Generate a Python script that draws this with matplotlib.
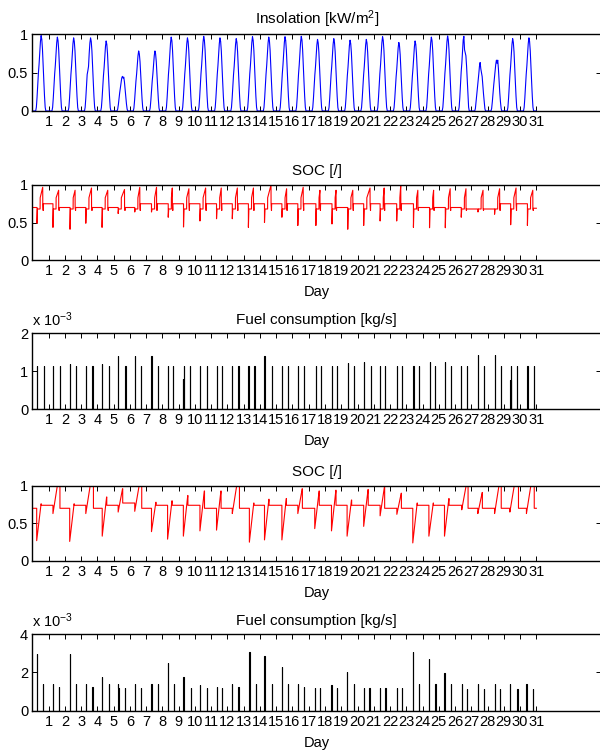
import numpy as np
import matplotlib
matplotlib.use("Agg")
import matplotlib.pyplot as plt
from matplotlib.ticker import FixedLocator, FuncFormatter

plt.rcParams['font.family'] = ['Liberation Sans', 'DejaVu Sans']
plt.rcParams['mathtext.fontset'] = 'custom'
plt.rcParams['mathtext.rm'] = 'Liberation Sans'
plt.rcParams['mathtext.default'] = 'regular'

# ---------------------------------------------------------------- data
n_days = 31
day_ticks = list(range(1, 32))

# Insolation [kW/m^2]: daily maximum and normalised hourly profile
insol_peak = [0.98, 0.96, 0.95, 0.95, 0.91, 0.45, 0.78, 0.78, 0.96, 0.95,
              0.97, 0.95, 0.94, 0.965, 0.96, 0.965, 0.97, 0.93, 0.94, 0.92,
              0.93, 0.965, 0.89, 0.91, 0.96, 0.975, 0.97, 0.63, 0.66, 0.94, 0.95]
insol_shape = [0, 0, 0, 0, 0, 0, 0.05, 0.18, 0.35, 0.50, 0.62, 0.78,
               0.92, 1.00, 0.95, 0.82, 0.60, 0.40, 0.20, 0.05, 0, 0, 0, 0]
# cloudy days with an irregular profile (normalised)
insol_shape_days = {
    3: [0, 0, 0, 0, 0, 0, 0.05, 0.18, 0.35, 0.50, 0.55, 0.61, 0.79, 0.93,
        1.00, 0.95, 0.82, 0.60, 0.40, 0.20, 0.05, 0, 0, 0],
    5: [0, 0, 0, 0, 0, 0, 0.05, 0.18, 0.36, 0.53, 0.67, 0.80, 0.95, 1.00,
        0.95, 0.98, 0.84, 0.62, 0.40, 0.20, 0.05, 0, 0, 0],
    26: [0, 0, 0, 0, 0, 0, 0.05, 0.18, 0.36, 0.52, 0.64, 0.80, 0.95, 1.00,
         0.82, 0.78, 0.74, 0.60, 0.41, 0.21, 0.05, 0, 0, 0],
    27: [0, 0, 0, 0, 0, 0, 0.05, 0.19, 0.35, 0.49, 0.62, 0.76, 0.92, 1.00,
         0.87, 0.79, 0.71, 0.52, 0.35, 0.19, 0.05, 0, 0, 0],
    28: [0, 0, 0, 0, 0, 0, 0.05, 0.18, 0.35, 0.50, 0.64, 0.79, 0.91, 1.00,
         0.94, 1.00, 0.83, 0.58, 0.36, 0.18, 0.05, 0, 0, 0],
}

# Generator start / stop instants [day] and fuel rate [1e-3 kg/s], case A
gen_a_on = [0.29, 1.27, 2.32, 3.29, 4.29, 5.28, 6.30, 7.33, 8.36, 9.30, 10.31,
            11.33, 12.30, 13.29, 14.28, 15.35, 16.33, 17.44, 18.43, 19.40,
            20.38, 21.39, 22.41, 23.44, 24.43, 25.40, 26.38, 27.41, 28.43,
            29.42, 30.45]
gen_a_off = [0.70, 1.68, 2.69, 3.70, 4.70, 5.73, 6.67, 7.70, 8.67, 9.69, 10.72,
             11.68, 12.67, 13.66, 14.74, 15.70, 16.72, 17.75, 18.74, 19.77,
             20.83, 21.70, 22.72, 23.77, 24.74, 25.76, 26.73, 27.78, 28.80,
             29.81, 30.84]
fuel_a_on = [1.15, 1.15, 1.20, 1.15, 1.18, 1.40, 1.40, 1.40, 1.15, 1.15, 1.15,
             1.15, 1.15, 1.15, 1.40, 1.15, 1.15, 1.15, 1.15, 1.21, 1.24, 1.15,
             1.15, 1.15, 1.24, 1.25, 1.15, 1.43, 1.43, 1.15, 1.15]
fuel_a_off = [1.15, 1.15, 1.15, 1.15, 1.15, 1.15, 1.15, 1.15, 1.15, 1.15, 1.15,
              1.15, 1.15, 1.15, 1.15, 1.15, 1.15, 1.15, 1.15, 1.15, 1.15, 1.15,
              1.15, 1.15, 1.15, 1.15, 1.15, 1.15, 1.15, 1.15, 1.15]
fuel_a_extra_t = [9.28, 14.30, 29.40]
fuel_a_extra_v = [0.80, 1.05, 0.77]

# State of charge, case A: morning minimum, midday maximum, evening level
soc_a_start = 0.70
soc_a_dip = [0.49, 0.435, 0.41, 0.49, 0.435, 0.62, 0.64, 0.64, 0.57, 0.44,
             0.52, 0.55, 0.55, 0.435, 0.50, 0.57, 0.46, 0.46, 0.48, 0.41, 0.46,
             0.52, 0.52, 0.435, 0.43, 0.43, 0.57, 0.64, 0.61, 0.47, 0.46]
soc_a_peak = [0.97, 0.93, 0.93, 0.96, 0.93, 0.94, 0.97, 0.97, 0.96, 0.95,
              0.96, 0.96, 0.96, 0.96, 1.00, 0.95, 0.97, 0.93, 0.93, 0.93, 0.96,
              0.96, 1.00, 0.93, 0.93, 0.95, 0.95, 0.93, 0.95, 0.96, 0.93]
soc_a_post = [0.75, 0.70, 0.70, 0.70, 0.70, 0.70, 0.75, 0.75, 0.75, 0.75,
              0.75, 0.75, 0.75, 0.75, 0.75, 0.75, 0.75, 0.75, 0.70, 0.75, 0.75,
              0.75, 0.75, 0.70, 0.70, 0.70, 0.68, 0.68, 0.75, 0.75, 0.69]
soc_a_mid = 0.68
soc_a_jump = 0.83
soc_a_notch = 0.66

# Generator start / stop instants [day] and fuel rate [1e-3 kg/s], case B
gen_b_on = [0.27, 1.27, 2.30, 3.29, 4.30, 5.28, 6.30, 7.33, 8.32, 9.29, 10.31,
            11.33, 12.30, 13.35, 14.28, 15.35, 16.33, 17.37, 18.40, 19.36,
            20.38, 21.39, 22.42, 23.40, 24.39, 25.35, 26.41, 27.40, 28.43,
            29.37, 30.39]
gen_b_off = [0.63, 1.64, 2.67, 3.70, 4.70, 5.69, 6.67, 7.70, 8.71, 9.73, 10.73,
             11.68, 12.68, 13.73, 14.74, 15.70, 16.72, 17.70, 18.74, 19.77,
             20.73, 21.72, 22.72, 23.77, 24.79, 25.72, 26.74, 27.78, 28.78,
             29.84, 30.81]
fuel_b_on = [2.95, 1.40, 2.95, 1.40, 1.75, 1.40, 1.40, 1.40, 2.51, 1.75, 1.34,
             1.22, 1.40, 3.09, 2.88, 2.27, 1.40, 1.17, 1.34, 2.00, 1.17, 1.17,
             1.17, 3.05, 2.69, 1.95, 1.40, 1.40, 1.40, 1.40, 1.40]
fuel_b_off = [1.40, 1.22, 1.40, 1.22, 1.40, 1.17, 1.17, 1.40, 1.40, 1.17, 1.17,
              1.17, 1.22, 1.40, 1.40, 1.40, 1.22, 1.17, 1.17, 1.40, 1.17, 1.17,
              1.17, 1.40, 1.40, 1.40, 1.13, 1.13, 1.13, 1.13, 1.13]
fuel_b_extra_t = [0.29, 0.65, 3.31, 4.28, 5.30, 9.27, 10.33, 10.75, 12.70,
                  14.26, 15.37, 15.72, 19.34, 24.37, 25.37, 25.74, 29.39, 30.41]
fuel_b_extra_v = [1.17, 1.17, 1.30, 1.22, 1.17, 1.00, 1.17, 1.10, 1.17,
                  1.00, 1.17, 1.17, 0.90, 0.90, 1.13, 1.22, 1.22, 1.22]

# State of charge, case B
soc_b_start = 0.70
soc_b_dip = [0.27, 0.63, 0.26, 0.63, 0.33, 0.65, 0.66, 0.39, 0.29, 0.33, 0.40,
             0.41, 0.63, 0.25, 0.28, 0.28, 0.63, 0.43, 0.40, 0.33, 0.46, 0.60,
             0.62, 0.24, 0.33, 0.33, 0.68, 0.63, 0.63, 0.65, 0.63]
soc_b_peak = [0.76, 1.00, 0.76, 1.00, 0.85, 0.96, 1.00, 0.78, 0.80, 0.87, 0.93,
              0.93, 1.00, 0.77, 0.82, 0.83, 0.96, 0.93, 0.94, 0.81, 0.95, 0.99,
              0.90, 0.77, 0.77, 0.83, 1.00, 0.91, 1.00, 1.00, 1.00]
soc_b_post = [0.74, 0.70, 0.74, 0.70, 0.74, 0.77, 0.70, 0.74, 0.74, 0.74, 0.70,
              0.70, 0.70, 0.74, 0.74, 0.74, 0.70, 0.74, 0.74, 0.74, 0.74, 0.70,
              0.70, 0.74, 0.74, 0.74, 0.70, 0.70, 0.70, 0.70, 0.70]


# ---------------------------------------------------------------- series
def insolation_series():
    t, v = [], []
    for d in range(n_days):
        shape = insol_shape_days.get(d, insol_shape)
        for h, s in enumerate(shape):
            t.append(d + h / 24.0)
            v.append(insol_peak[d] * s)
    t.append(n_days)
    v.append(0.0)
    return np.array(t), np.array(v)


def soc_a_series():
    t, v = [0.0], [soc_a_start]
    prev = soc_a_start
    for d in range(n_days):
        t1, t2 = gen_a_on[d], gen_a_off[d]
        t += [t1, t1, t1 + 0.03, t1 + 0.19, t1 + 0.195, t2 - 0.06,
              t2 - 0.055, t2 - 0.03, t2 - 0.02]
        v += [prev, soc_a_dip[d], soc_a_mid, soc_a_mid, soc_a_jump,
              soc_a_peak[d], soc_a_post[d], soc_a_notch, soc_a_post[d]]
        prev = soc_a_post[d]
    t.append(n_days)
    v.append(prev)
    return np.array(t), np.array(v)


def soc_b_series():
    t, v = [0.0], [soc_b_start]
    prev = soc_b_start
    for d in range(n_days):
        t1, t2 = gen_b_on[d], gen_b_off[d]
        tp = t1 + 0.27
        tq = t2 + 0.06 if soc_b_peak[d] >= 1.0 else tp + 0.01
        t += [t1, t1, tp, tq, tq]
        v += [prev, soc_b_dip[d], soc_b_peak[d], soc_b_peak[d], soc_b_post[d]]
        prev = soc_b_post[d]
    t.append(n_days)
    v.append(prev)
    return np.array(t), np.array(v)


def fuel_series(t_on, v_on, t_off, v_off, t_x, v_x, width=0.012):
    ev = sorted(zip(list(t_on) + list(t_off) + list(t_x),
                    list(v_on) + list(v_off) + list(v_x)))
    t, v = [0.0], [0.0]
    for te, ve in ev:
        t += [te, te, te + width, te + width]
        v += [0.0, ve, ve, 0.0]
    t.append(n_days)
    v.append(0.0)
    return np.array(t), np.array(v)


# ---------------------------------------------------------------- figure
fig = plt.figure(figsize=(6.0, 7.51), dpi=100)

W, H = 600.0, 751.0
x_left, x_right = 32.3, 601.4
panel_px = [(34.0, 111.0), (185.0, 260.0), (333.3, 409.3),
            (485.7, 561.0), (634.3, 710.5)]
axes = []
for top, bot in panel_px:
    ax = fig.add_axes([x_left / W, 1 - bot / H, (x_right - x_left) / W,
                       (bot - top) / H])
    axes.append(ax)

fmt = FuncFormatter(lambda val, pos: '%g' % val)


def style(ax, ymax, yticks, title, xlabel=True):
    ax.set_xlim(0, 35)
    ax.set_ylim(0, ymax)
    ax.xaxis.set_major_locator(FixedLocator(day_ticks))
    ax.set_xticklabels([str(d) for d in day_ticks])
    ax.yaxis.set_major_locator(FixedLocator(yticks))
    ax.yaxis.set_major_formatter(fmt)
    ax.tick_params(direction='in', top=True, right=True, length=3.6,
                   width=0.7, labelsize=10.5, pad=3, colors='black')
    for sp in ax.spines.values():
        sp.set_linewidth(1.0)
    ax.set_title(title, fontsize=11, pad=7)
    if xlabel:
        ax.set_xlabel('Day', fontsize=10.5, labelpad=5)


t, v = insolation_series()
axes[0].plot(t, v, color='#0000ff', lw=0.8)
style(axes[0], 1, [0, 0.5, 1], 'Insolation [kW/m$^2$]', xlabel=False)

t, v = soc_a_series()
axes[1].plot(t, v, color='#ff0000', lw=0.8)
style(axes[1], 1, [0, 0.5, 1], 'SOC [/]')

t, v = fuel_series(gen_a_on, fuel_a_on, gen_a_off, fuel_a_off,
                   fuel_a_extra_t, fuel_a_extra_v)
axes[2].plot(t, v, color='black', lw=0.8)
style(axes[2], 2, [0, 1, 2], 'Fuel consumption [kg/s]')
axes[2].text(0.0, 1.06, 'x 10$^{-3}$', transform=axes[2].transAxes,
             fontsize=10.5, ha='left', va='bottom')

t, v = soc_b_series()
axes[3].plot(t, v, color='#ff0000', lw=0.8)
style(axes[3], 1, [0, 0.5, 1], 'SOC [/]')

t, v = fuel_series(gen_b_on, fuel_b_on, gen_b_off, fuel_b_off,
                   fuel_b_extra_t, fuel_b_extra_v)
axes[4].plot(t, v, color='black', lw=0.8)
style(axes[4], 4, [0, 2, 4], 'Fuel consumption [kg/s]')
axes[4].text(0.0, 1.06, 'x 10$^{-3}$', transform=axes[4].transAxes,
             fontsize=10.5, ha='left', va='bottom')

fig.savefig('out.png', dpi=100)
